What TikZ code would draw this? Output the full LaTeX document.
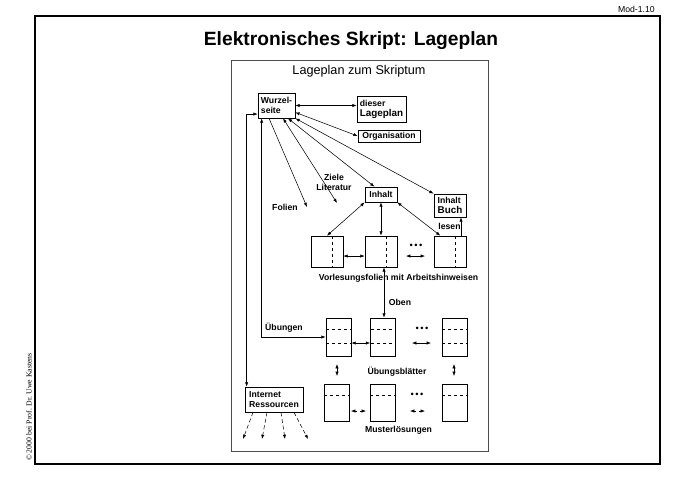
\documentclass[tikz,border=0pt]{standalone}
\usepackage{fontspec}
\setmainfont{Liberation Sans}
\newfontfamily\serifcopy{Liberation Serif}
\usetikzlibrary{arrows.meta}
\newcommand\lagefont{\fontsize{6.5}{7.4}\selectfont\bfseries}

\begin{document}
\begin{tikzpicture}[x=0.75pt, y=-0.75pt, line width=0.4pt,
    >={Latex[length=3.2pt, width=2.4pt]},
    box/.style = {draw, line width=0.5pt, inner sep=1.5pt, align=left, font=\lagefont},
    lbl/.style = {inner sep=0pt, font=\lagefont},
    dots/.style = {inner sep=0pt, font=\fontsize{7}{7}\selectfont},
    folie/.style = {draw, line width=0.5pt, minimum width=24pt, minimum height=23.25pt, inner sep=0pt,
        path picture={\draw[dash pattern=on 2.5pt off 2pt]
            ([xshift=4.3pt]path picture bounding box.north) -- ([xshift=4.3pt]path picture bounding box.south);}},
    uebung/.style = {draw, line width=0.5pt, minimum width=18.75pt, minimum height=28.5pt, inner sep=0pt,
        path picture={\foreach \h in {5.7pt,-5.1pt}
            \draw[dash pattern=on 2.5pt off 2pt]
            ([yshift=\h]path picture bounding box.west) -- ([yshift=\h]path picture bounding box.east);}},
    muster/.style = {draw, line width=0.5pt, minimum width=18.75pt, minimum height=27.75pt, inner sep=0pt,
        path picture={\draw[dash pattern=on 2.5pt off 2pt]
            ([yshift=5.6pt]path picture bounding box.west) -- ([yshift=5.6pt]path picture bounding box.east);}}]
    \useasboundingbox (0,0) rectangle (678,480);

    % Seitenrahmen
    \draw[line width=1.1pt] (35,16) rectangle (660,464);
    \node[anchor=south east, inner sep=0pt, font=\fontsize{6.5}{7}\selectfont] (modnr) at (655,13) {Mod-1.10};
    \node[font=\fontsize{14.4}{16}\selectfont\bfseries] (titel) at (351,41) {Elektronisches Skript: Lageplan};
    \node[rotate=90, inner sep=0pt, font=\serifcopy\fontsize{5.8}{6}\selectfont] (copy) at (29,407) {© 2000 bei Prof. Dr. Uwe Kastens};

    % Lageplan
    \draw[gray!60!black, line width=0.5pt] (231,60) rectangle (488,451);
    \node[font=\fontsize{9.5}{10}\selectfont] (plan) at (359,71) {Lageplan zum Skriptum};

    \node[box, minimum width=27.75pt, minimum height=18.75pt] (wurzel) at (276.5,105.5) {Wurzel-\\seite};
    \node[box, minimum width=36.75pt, minimum height=19.5pt] (lageplan) at (381.5,109) {dieser\\{\fontsize{7.4}{7.6}\selectfont Lageplan}};
    \node[box, minimum width=46.5pt, minimum height=9pt] (orga) at (389,136) {Organisation};
    \node[box, minimum width=24pt, minimum height=11.25pt] (inhalt) at (381,194.5) {Inhalt};
    \node[box, minimum width=24pt, minimum height=17.25pt] (buch) at (450,205.5) {Inhalt\\{\fontsize{7.4}{7.6}\selectfont Buch}};
    \node[box, minimum width=43.5pt, minimum height=18.75pt] (internet) at (274,399.5) {Internet\\Ressourcen};

    \foreach \i/\x in {1/327, 2/381, 3/450}
        \node[folie] (f\i) at (\x,251.5) {};
    \foreach \i/\x in {1/338.5, 2/383, 3/454.5}
        \node[uebung] (u\i) at (\x,337) {};
    \foreach \i/\x in {1/336.5, 2/382.5, 3/454.5}
        \node[muster] (m\i) at (\x,402.5) {};

    \node[dots] (fdots) at (416,246) {•\,•\,•};
    \node[dots] (udots) at (422,329) {•\,•\,•};
    \node[dots] (mdots) at (417,395) {•\,•\,•};

    \node[lbl, align=center] (ziele) at (334,182) {Ziele\\Literatur};
    \node[lbl] (folien) at (285,207) {Folien};
    \node[lbl] (lesen) at (449.5,226) {lesen};
    \node[lbl] (vlabel) at (398.5,278) {Vorlesungsfolien mit Arbeitshinweisen};
    \node[lbl] (oben) at (400,302) {Oben};
    \node[lbl] (uebungen) at (284,328) {Übungen};
    \node[lbl] (ublabel) at (397,372) {Übungsblätter};
    \node[lbl] (mlabel) at (398.5,430) {Musterlösungen};

    \coordinate (folienend) at (307,207);
    \coordinate (zieleend) at (337,203);
    \coordinate (fa) at (406,256);
    \coordinate (fb) at (425,256);
    \coordinate (ua) at (412,343);
    \coordinate (ub) at (431,343);
    \coordinate (um1a) at (337,364);
    \coordinate (um1b) at (337,376);
    \coordinate (um3a) at (454,364);
    \coordinate (um3b) at (454,376);
    \foreach \n/\xa/\xb in {1/357/351, 2/360/366, 3/416/410, 4/419/425} {
        \coordinate (ms\n) at (\xa,411);
        \coordinate (me\n) at (\xb,411);
    }
    \foreach \n/\ex in {1/243, 2/262, 3/285, 4/308}
        \coordinate (web\n) at (\ex,439);

    % von der Wurzelseite
    \draw[<->] (wurzel.east) -- (wurzel.east -| lageplan.west);
    \draw[<->] (wurzel.-20) -- (orga.west);
    \draw[->] ([xshift=-5.6pt]wurzel.south) -- (folienend);
    \draw[<->] ([xshift=4.9pt]wurzel.south) -- (zieleend);
    \draw[<->] ([xshift=8.6pt]wurzel.south) -- (inhalt.130);
    \draw[<->] (wurzel.south east) -- (buch.north west);
    \draw[<->] ([xshift=3pt]wurzel.south west) |- (u1.west);
    \draw[<->] ([xshift=1.5pt]internet.north west) |- ([yshift=-6.4pt]wurzel.west);

    % Inhalt und Vorlesungsfolien
    \draw[<->] (inhalt.south west) -- (f1.north);
    \draw[<->] (inhalt.south) -- (f2.north);
    \draw[<->] (inhalt.south east) -- ([xshift=5pt]f3.north west);
    \draw[->] ([xshift=8.25pt]f3.north) -- ([xshift=8.25pt]buch.south);
    \draw[<->] ([yshift=-3.4pt]f1.east) -- ([yshift=-3.4pt]f2.west);
    \draw[<->] (fa) -- (fb);
    \draw[<->] ([xshift=2.25pt]f2.south) -- ([xshift=0.75pt]u2.north);

    % Uebungen und Musterloesungen
    \draw[<->] ([yshift=-4.5pt]u1.east) -- ([yshift=-4.5pt]u2.west);
    \draw[<->] (ua) -- (ub);
    \draw[<->] (um1a) -- (um1b);
    \draw[<->] (um3a) -- (um3b);
    \foreach \n in {1,...,4}
        \draw[->] (ms\n) -- (me\n);

    % Internet
    \foreach \n/\dx in {1/-15.75, 2/-5.25, 3/5.25, 4/15}
        \draw[->, densely dashed] ([xshift=\dx pt]internet.south) -- (web\n);
\end{tikzpicture}
\end{document}
